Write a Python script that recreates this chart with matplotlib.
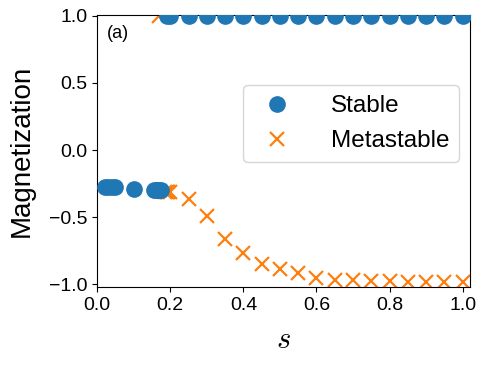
import numpy as np
import matplotlib
matplotlib.use("Agg")
import matplotlib.pyplot as plt

plt.rcParams['font.family'] = ['Liberation Sans', 'DejaVu Sans']
plt.rcParams['mathtext.fontset'] = 'cm'

# stable states
s_stable = [0.02, 0.03, 0.04, 0.05, 0.1,
            0.155, 0.16, 0.165, 0.17, 0.175,
            0.19, 0.2, 0.25, 0.3, 0.35, 0.4, 0.45, 0.5, 0.55, 0.6,
            0.65, 0.7, 0.75, 0.8, 0.85, 0.9, 0.95, 1.0]
m_stable = [-0.274, -0.274, -0.274, -0.274, -0.29,
            -0.30, -0.30, -0.30, -0.30, -0.30,
            1.0, 1.0, 1.0, 1.0, 1.0, 1.0, 1.0, 1.0, 1.0, 1.0,
            1.0, 1.0, 1.0, 1.0, 1.0, 1.0, 1.0, 1.0]

# metastable states
s_meta = [0.17, 0.185, 0.19, 0.195, 0.2, 0.25, 0.3, 0.35, 0.4, 0.45, 0.5,
          0.55, 0.6, 0.65, 0.7, 0.75, 0.8, 0.85, 0.9, 0.95, 1.0]
m_meta = [1.0, -0.31, -0.31, -0.31, -0.31, -0.366, -0.49, -0.66, -0.77, -0.846, -0.89,
          -0.92, -0.955, -0.965, -0.97, -0.975, -0.978, -0.98, -0.982, -0.983, -0.984]

fig = plt.figure(figsize=(4.86, 3.65), dpi=100)
ax = fig.add_axes([0.2, 0.214, 0.767, 0.745])

ax.plot(s_meta, m_meta, 'x', color='#ff7f0e', ms=10, mew=1.6, label='Metastable', zorder=2)
ax.plot(s_stable, m_stable, 'o', color='#1f77b4', ms=11, label='Stable', zorder=3)

ax.set_xlim(0, 1.02)
ax.set_ylim(-1.02, 1.007)
ax.set_xticks([0.0, 0.2, 0.4, 0.6, 0.8, 1.0])
ax.set_yticks([-1.0, -0.5, 0.0, 0.5, 1.0])
ax.tick_params(labelsize=14)

ax.set_xlabel('$s$', fontsize=22, labelpad=8)
ax.set_ylabel('Magnetization', fontsize=20, labelpad=10)
ax.text(0.025, 0.93, '(a)', transform=ax.transAxes, fontsize=13, va='center')

h, l = ax.get_legend_handles_labels()
ax.legend(h[::-1], l[::-1], loc='center right', bbox_to_anchor=(0.97, 0.6),
          borderaxespad=0, fontsize=17.5, handletextpad=1.2, labelspacing=0.55)

fig.savefig('out.png', dpi=100)
